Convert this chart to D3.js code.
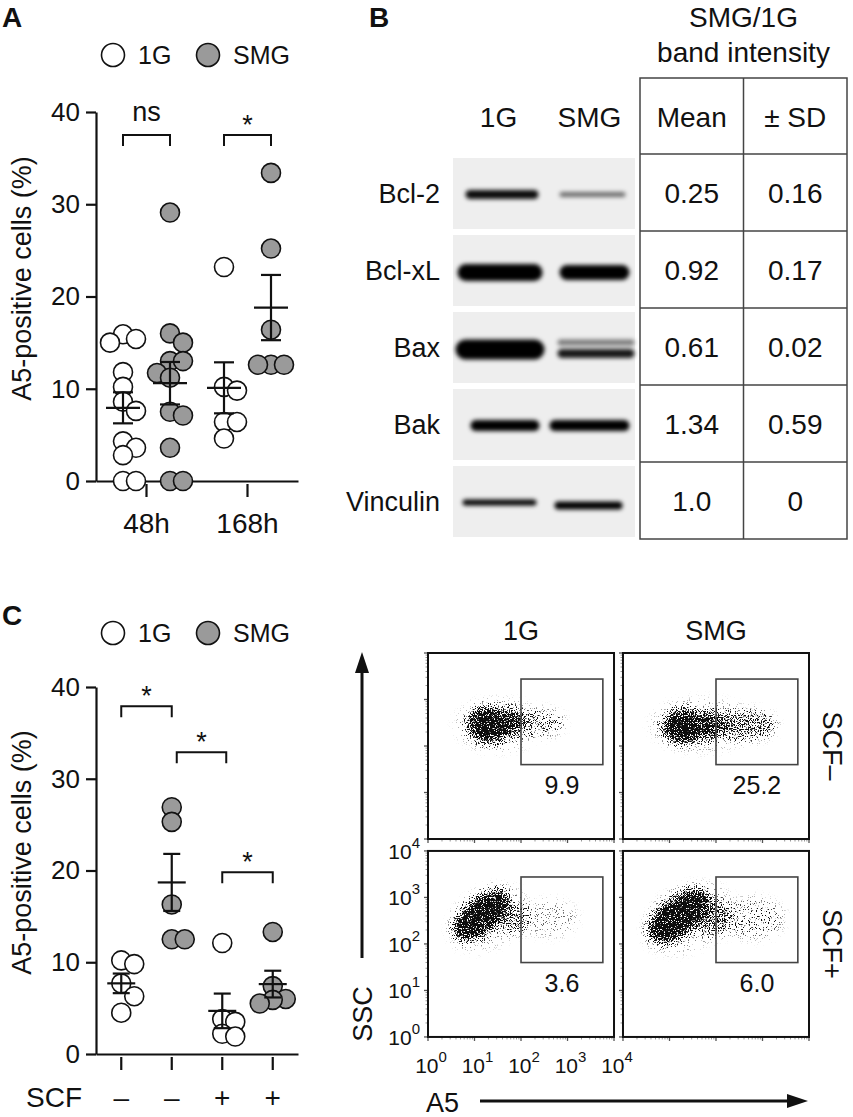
<!DOCTYPE html>
<html>
<head>
<meta charset="utf-8">
<script src="https://cdn.jsdelivr.net/npm/d3@7/dist/d3.min.js"></script>
<style>
  html, body { margin: 0; padding: 0; background: #fff; }
  svg { display: block; }
</style>
</head>
<body>
<div id="fig"></div>
<script>
// ---------- data ----------
const yTicks = [0, 10, 20, 30, 40];
const legendGroups = ['1G', 'SMG'];

// panel A: A5-positive cells (%), one value per experiment
const timePoints = ['48h', '168h'];
const a1G48 = [15.9, 15.4, 15.0, 11.8, 10.2, 8.6, 7.6, 4.3, 3.6, 2.8, 0, 0];
const aSMG48 = [29.1, 16.0, 15.0, 13.0, 13.0, 11.7, 11.2, 7.5, 7.1, 3.6, 0, 0];
const a1G168 = [23.2, 10.2, 9.8, 6.4, 6.4, 4.6];
const aSMG168 = [33.4, 25.2, 16.4, 12.6, 12.6, 12.6];
const sigA = [
  { from: 0, to: 1, label: 'ns', level: 37.5 },
  { from: 2, to: 3, label: '*', level: 37.5 }
];

// panel C: with / without SCF
const scfKeys = ['1G-', 'SMG-', '1G+', 'SMG+'];
const scfSigns = ['–', '–', '+', '+'];
const c1GMinus = [10.2, 9.8, 7.7, 6.3, 4.5];
const cSMGMinus = [26.9, 25.3, 16.3, 12.5, 12.5];
const c1GPlus = [12.1, 3.8, 3.5, 2.2, 1.9];
const cSMGPlus = [13.3, 7.4, 6.0, 5.9, 5.5];
const sigC = [
  { from: 0, to: 1, label: '*', level: 37.9 },
  { from: 1, to: 2, label: '*', level: 32.9 },
  { from: 2, to: 3, label: '*', level: 19.8 }
];

// panel B: western blot + SMG/1G band intensity
const proteins = ['Bcl-2', 'Bcl-xL', 'Bax', 'Bak', 'Vinculin'];
const lanes = ['1G', 'SMG'];
const ratioMean = ['0.25', '0.92', '0.61', '1.34', '1.0'];
const ratioSD = ['0.16', '0.17', '0.02', '0.59', '0'];
const band1G = [0.95, 1, 1, 1, 1];
const bandSMG = [0.55, 1, 0.9, 1, 1];

// flow cytometry (log10 units): gate and event clouds
const flowCols = ['1G', 'SMG'];
const flowRows = ['SCF–', 'SCF+'];
const decades = [0, 1, 2, 3, 4];
const gatePercent = [['9.9', '25.2'], ['3.6', '6.0']];
const gateA5 = [2.0, 3.76];
const gateSSC = [1.6, 3.44];
// each blob: [log A5, log SSC, spread A5, spread SSC, tilt deg, density]
const clouds = [
  [
    [[1.3, 2.45, 0.45, 0.38, -10, 1], [1.75, 2.5, 0.33, 0.3, 0, 0.8], [2.4, 2.5, 0.5, 0.26, 0, 0.33], [1.5, 2.45, 0.9, 0.55, 0, 0.1]],
    [[1.3, 2.42, 0.45, 0.36, 0, 1], [1.85, 2.45, 0.35, 0.32, 0, 0.8], [2.65, 2.45, 0.62, 0.3, 0, 0.48], [1.7, 2.45, 1.1, 0.55, 0, 0.1]]
  ],
  [
    [[1.15, 2.62, 0.72, 0.36, 40, 1], [1.85, 2.55, 0.33, 0.3, 0, 0.42], [2.6, 2.55, 0.6, 0.38, 0, 0.13], [1.3, 2.55, 0.9, 0.6, 30, 0.1]],
    [[1.2, 2.6, 0.78, 0.4, 38, 1], [1.95, 2.55, 0.38, 0.38, 0, 0.5], [2.8, 2.55, 0.65, 0.42, 0, 0.2], [1.4, 2.55, 1.0, 0.65, 30, 0.1]]
  ]
];

// ---------- setup ----------
const W = 853, H = 1117;
const FONT = '"Liberation Sans", Arial, Helvetica, sans-serif';
const INK = '#111';
const GREY = '#9a9a9a';

const svg = d3.select('#fig').append('svg')
  .attr('width', W).attr('height', H)
  .attr('font-family', FONT);

const defs = svg.append('defs');

// soft blur for blot bands
defs.append('filter').attr('id', 'bandBlur')
  .attr('x', '-20%').attr('y', '-80%').attr('width', '140%').attr('height', '260%')
  .append('feGaussianBlur').attr('stdDeviation', 2.1);

// stipple: density from blurred blobs, grain from noise
const stip = defs.append('filter').attr('id', 'stipple')
  .attr('x', '-20%').attr('y', '-20%').attr('width', '140%').attr('height', '140%');
stip.append('feGaussianBlur').attr('in', 'SourceGraphic').attr('stdDeviation', 5).attr('result', 'dens');
stip.append('feTurbulence').attr('type', 'fractalNoise').attr('baseFrequency', 0.85)
  .attr('numOctaves', 2).attr('seed', 7).attr('result', 'noise');
stip.append('feColorMatrix').attr('in', 'noise').attr('type', 'matrix')
  .attr('values', '0 0 0 0 0  0 0 0 0 0  0 0 0 0 0  0 0 0 2.6 -0.8').attr('result', 'grain');
stip.append('feComposite').attr('in', 'dens').attr('in2', 'grain').attr('operator', 'arithmetic')
  .attr('k1', 0).attr('k2', 5).attr('k3', -5).attr('k4', 0).attr('result', 'mask');
stip.append('feFlood').attr('flood-color', '#111').attr('result', 'ink');
stip.append('feComposite').attr('in', 'ink').attr('in2', 'mask').attr('operator', 'in');

function panelLetter(t, x, y) {
  svg.append('text').attr('x', x).attr('y', y)
    .attr('font-size', 28).attr('font-weight', 'bold').attr('fill', INK).text(t);
}

// spread points sideways so they do not sit on top of each other
function dodge(values, y, step, minDist) {
  const placed = [];
  return values.map(v => {
    const py = y(v);
    for (const k of [0, 1, -1, 2, -2, 3, -3]) {
      const px = k * step;
      if (placed.every(p => Math.hypot(p.x - px, p.y - py) >= minDist)) {
        placed.push({ x: px, y: py });
        return px;
      }
    }
    placed.push({ x: 0, y: py });
    return 0;
  });
}

function dotPlot(o) {
  const y = d3.scaleLinear().domain([0, 40]).range([o.bottom, o.top]);
  const xb = d3.scaleBand().domain(o.keys).range([o.left, o.right]);
  const g = svg.append('g');

  // y axis
  const ya = g.append('g')
    .attr('transform', `translate(${o.left},0)`)
    .call(d3.axisLeft(y).tickValues(yTicks).tickSize(10).tickSizeOuter(0).tickPadding(6));
  ya.attr('font-size', 26).attr('font-family', FONT);
  ya.selectAll('path, line').attr('stroke', INK).attr('stroke-width', 2.2);
  ya.selectAll('text').attr('fill', INK);

  // x axis
  const xa = g.append('g')
    .attr('transform', `translate(0,${o.bottom})`)
    .call(d3.axisBottom(xb).tickSize(16).tickSizeOuter(0).tickFormat((d, i) => o.tickText[i]));
  xa.attr('font-size', 28).attr('font-family', FONT);
  xa.selectAll('path, line').attr('stroke', INK).attr('stroke-width', 2.2);
  xa.selectAll('.tick line').attr('y1', 3);
  xa.selectAll('.tick text').attr('y', o.tickTextY).attr('dy', 0).attr('fill', INK);

  const centerOf = gi => o.center(xb, gi);

  // points
  o.groups.forEach((grp, gi) => {
    const cx = centerOf(gi);
    const offs = dodge(grp.values, y, 13, 12.9);
    g.append('g').selectAll('circle').data(grp.values).join('circle')
      .attr('cx', (d, i) => cx + offs[i])
      .attr('cy', d => y(d))
      .attr('r', 9.5)
      .attr('fill', grp.fill)
      .attr('stroke', INK)
      .attr('stroke-width', 1.6);
  });

  // mean +/- SEM
  o.groups.forEach((grp, gi) => {
    const cx = centerOf(gi);
    const m = d3.mean(grp.values);
    const sem = d3.deviation(grp.values) / Math.sqrt(grp.values.length);
    const e = g.append('g').attr('stroke', INK).attr('stroke-width', 2.2);
    e.append('line').attr('x1', cx - o.meanHalf).attr('x2', cx + o.meanHalf)
      .attr('y1', y(m)).attr('y2', y(m));
    e.append('line').attr('x1', cx).attr('x2', cx)
      .attr('y1', y(m - sem)).attr('y2', y(m + sem));
    [m - sem, m + sem].forEach(v => {
      e.append('line').attr('x1', cx - o.capHalf).attr('x2', cx + o.capHalf)
        .attr('y1', y(v)).attr('y2', y(v));
    });
  });

  // significance brackets
  o.sig.forEach((s, i) => {
    let xa1 = centerOf(s.from), xb1 = centerOf(s.to);
    const prev = o.sig[i - 1];
    if (prev && prev.to === s.from && Math.abs(prev.level - s.level) < 8) { xa1 += 5; xb1 += 4; }
    const yt = y(s.level);
    g.append('path')
      .attr('d', `M${xa1},${yt + 11}V${yt}H${xb1}V${yt + 11}`)
      .attr('fill', 'none').attr('stroke', INK).attr('stroke-width', 2);
    g.append('text')
      .attr('x', (xa1 + xb1) / 2)
      .attr('y', s.label === '*' ? yt - 1 : yt - 14)
      .attr('text-anchor', 'middle')
      .attr('font-size', 27).attr('fill', INK)
      .text(s.label);
  });

  // legend
  const lg = g.append('g');
  legendGroups.forEach((name, i) => {
    const lx = o.left + 17 + i * 95;
    lg.append('circle').attr('cx', lx).attr('cy', o.legendY).attr('r', 11.5)
      .attr('fill', i === 0 ? '#fff' : GREY).attr('stroke', INK).attr('stroke-width', 1.6);
    lg.append('text').attr('x', lx + 25).attr('y', o.legendY + 9)
      .attr('font-size', 25).attr('fill', INK).text(name);
  });

  // y title
  g.append('text')
    .attr('transform', `translate(31,${(o.top + o.bottom) / 2 - 18}) rotate(-90)`)
    .attr('text-anchor', 'middle')
    .attr('font-size', 27).attr('fill', INK)
    .text('A5-positive cells (%)');

  return g;
}

// ---------- panel A ----------
panelLetter('A', 2, 27);
dotPlot({
  top: 112, bottom: 481, left: 96, right: 298,
  keys: timePoints, tickText: timePoints, tickTextY: 52,
  center: (xb, gi) => xb(timePoints[gi >> 1]) + xb.bandwidth() / 2 + (gi % 2 ? 23.5 : -23.5),
  groups: [
    { values: a1G48, fill: '#fff' },
    { values: aSMG48, fill: GREY },
    { values: a1G168, fill: '#fff' },
    { values: aSMG168, fill: GREY }
  ],
  sig: sigA, meanHalf: 17, capHalf: 10, legendY: 55
});

// ---------- panel C (dot plot) ----------
panelLetter('C', 2, 625);
dotPlot({
  top: 687, bottom: 1054, left: 96, right: 298,
  keys: scfKeys, tickText: scfSigns, tickTextY: 53,
  center: (xb, gi) => xb(scfKeys[gi]) + xb.bandwidth() / 2,
  groups: [
    { values: c1GMinus, fill: '#fff' },
    { values: cSMGMinus, fill: GREY },
    { values: c1GPlus, fill: '#fff' },
    { values: cSMGPlus, fill: GREY }
  ],
  sig: sigC, meanHalf: 14, capHalf: 8.5, legendY: 633
});
svg.append('text').attr('x', 82).attr('y', 1107).attr('text-anchor', 'end')
  .attr('font-size', 28).attr('fill', INK).text('SCF');

// ---------- panel B ----------
panelLetter('B', 369, 27);
const rowBand = d3.scaleBand().domain(proteins).range([154, 539]);
const laneBand = d3.scaleBand().domain(lanes).range([453, 635]);
const tableCol = d3.scaleBand().domain(['Mean', '± SD']).range([640, 847]);
const tableTop = 78;

// band shapes (offsets from lane centre / row centre)
const bandLook = {
  'Bcl-2':    [[{ x0: -33, x1: 40, dy: 2, h: 9 }], [{ x0: -30, x1: 36, dy: 2, h: 5 }]],
  'Bcl-xL':   [[{ x0: -41, x1: 44, dy: 3, h: 17 }], [{ x0: -30, x1: 40, dy: 3, h: 15 }]],
  'Bax':      [[{ x0: -43, x1: 46, dy: 3, h: 20 }],
               [{ x0: -32, x1: 45, dy: -4, h: 6, w: 0.55 }, { x0: -32, x1: 45, dy: 7, h: 9 }]],
  'Bak':      [[{ x0: -28, x1: 41, dy: 2, h: 11 }], [{ x0: -40, x1: 40, dy: 2, h: 11 }]],
  'Vinculin': [[{ x0: -36, x1: 38, dy: 2, h: 6 }], [{ x0: -35, x1: 33, dy: 5, h: 8 }]]
};

const blot = svg.append('g');
proteins.forEach((p, i) => {
  const y0 = rowBand(p), bh = rowBand.bandwidth(), yc = y0 + bh / 2;
  blot.append('rect')
    .attr('x', laneBand.range()[0]).attr('y', y0 + 4)
    .attr('width', laneBand.range()[1] - laneBand.range()[0]).attr('height', bh - 6)
    .attr('fill', '#eeeeee');
  const bands = blot.append('g').attr('filter', 'url(#bandBlur)');
  lanes.forEach((lane, li) => {
    const lc = laneBand(lane) + laneBand.bandwidth() / 2;
    const dens = li === 0 ? band1G[i] : bandSMG[i];
    bandLook[p][li].forEach(b => {
      bands.append('rect')
        .attr('x', lc + b.x0).attr('y', yc + b.dy - b.h / 2)
        .attr('width', b.x1 - b.x0).attr('height', b.h)
        .attr('rx', b.h / 2)
        .attr('fill', '#000').attr('fill-opacity', dens * (b.w || 1));
    });
  });
  blot.append('text').attr('x', 440).attr('y', yc + 10).attr('text-anchor', 'end')
    .attr('font-size', 27).attr('fill', INK).text(p);
  // table values
  [ratioMean[i], ratioSD[i]].forEach((v, ci) => {
    const key = tableCol.domain()[ci];
    blot.append('text').attr('x', tableCol(key) + tableCol.bandwidth() / 2).attr('y', yc + 10)
      .attr('text-anchor', 'middle').attr('font-size', 28).attr('fill', INK).text(v);
  });
});

// lane headers
lanes.forEach(l => {
  blot.append('text').attr('x', laneBand(l) + laneBand.bandwidth() / 2).attr('y', 127)
    .attr('text-anchor', 'middle').attr('font-size', 28).attr('fill', INK).text(l);
});

// table grid
const grid = blot.append('g').attr('stroke', '#444').attr('stroke-width', 1.5).attr('fill', 'none');
const [tx0, tx1] = tableCol.range();
grid.append('rect').attr('x', tx0).attr('y', tableTop)
  .attr('width', tx1 - tx0).attr('height', rowBand.range()[1] - tableTop);
grid.append('line').attr('x1', tableCol('± SD')).attr('x2', tableCol('± SD'))
  .attr('y1', tableTop).attr('y2', rowBand.range()[1]);
proteins.forEach(p => {
  grid.append('line').attr('x1', tx0).attr('x2', tx1).attr('y1', rowBand(p)).attr('y2', rowBand(p));
});
tableCol.domain().forEach(c => {
  blot.append('text').attr('x', tableCol(c) + tableCol.bandwidth() / 2).attr('y', 127)
    .attr('text-anchor', 'middle').attr('font-size', 28).attr('fill', INK).text(c);
});
blot.append('text').attr('x', (tx0 + tx1) / 2).attr('y', 27).attr('text-anchor', 'middle')
  .attr('font-size', 28).attr('fill', INK).text('SMG/1G');
blot.append('text').attr('x', (tx0 + tx1) / 2).attr('y', 62).attr('text-anchor', 'middle')
  .attr('font-size', 28).attr('fill', INK).text('band intensity');

// ---------- panel C (flow cytometry) ----------
const fx = d3.scaleBand().domain(flowCols).range([428, 809]).paddingInner(0.046);
const fy = d3.scaleBand().domain(flowRows).range([653, 1037]).paddingInner(0.06);
const fs = fx.bandwidth();
const minor = [];
decades.slice(0, -1).forEach(e => d3.range(2, 10).forEach(k => minor.push(e + Math.log10(k))));

const flow = svg.append('g');

function powLabel(t, e) {
  t.append('tspan').text('10');
  t.append('tspan').attr('dy', -11).attr('font-size', 15).text(e);
}

flowRows.forEach((row, ri) => {
  flowCols.forEach((col, ci) => {
    const x0 = fx(col), y0 = fy(row);
    const a5 = d3.scaleLinear().domain([0, 4]).range([x0, x0 + fs]);
    const ssc = d3.scaleLinear().domain([0, 4]).range([y0 + fs, y0]);
    const id = `clip${ri}${ci}`;
    defs.append('clipPath').attr('id', id)
      .append('rect').attr('x', x0).attr('y', y0).attr('width', fs).attr('height', fs);

    // events
    const cl = flow.append('g').attr('clip-path', `url(#${id})`)
      .append('g').attr('filter', 'url(#stipple)');
    clouds[ri][ci].forEach(b => {
      const cx = a5(b[0]), cy = ssc(b[1]);
      cl.append('ellipse')
        .attr('cx', cx).attr('cy', cy)
        .attr('rx', a5(b[2]) - a5(0)).attr('ry', a5(b[3]) - a5(0))
        .attr('transform', `rotate(${-b[4]},${cx},${cy})`)
        .attr('fill', '#000').attr('fill-opacity', b[5]);
    });

    // ticks
    const tk = flow.append('g');
    minor.forEach(v => {
      tk.append('line').attr('x1', x0 - 2.5).attr('x2', x0).attr('y1', ssc(v)).attr('y2', ssc(v))
        .attr('stroke', '#999').attr('stroke-width', 1);
      tk.append('line').attr('y1', y0 + fs).attr('y2', y0 + fs + 2.5).attr('x1', a5(v)).attr('x2', a5(v))
        .attr('stroke', '#999').attr('stroke-width', 1);
    });
    decades.forEach(v => {
      tk.append('line').attr('x1', x0 - 4).attr('x2', x0).attr('y1', ssc(v)).attr('y2', ssc(v))
        .attr('stroke', '#555').attr('stroke-width', 1.3);
      tk.append('line').attr('y1', y0 + fs).attr('y2', y0 + fs + 4).attr('x1', a5(v)).attr('x2', a5(v))
        .attr('stroke', '#555').attr('stroke-width', 1.3);
    });

    // frame and gate
    flow.append('rect').attr('x', x0).attr('y', y0).attr('width', fs).attr('height', fs)
      .attr('fill', 'none').attr('stroke', INK).attr('stroke-width', 2);
    flow.append('rect')
      .attr('x', a5(gateA5[0])).attr('y', ssc(gateSSC[1]))
      .attr('width', a5(gateA5[1]) - a5(gateA5[0])).attr('height', ssc(gateSSC[0]) - ssc(gateSSC[1]))
      .attr('fill', 'none').attr('stroke', '#444').attr('stroke-width', 1.6);
    flow.append('text')
      .attr('x', a5((gateA5[0] + gateA5[1]) / 2)).attr('y', ssc(gateSSC[0]) + 29)
      .attr('text-anchor', 'middle').attr('font-size', 25).attr('fill', INK)
      .text(gatePercent[ri][ci]);

    // axis labels only on the lower-left plot
    if (ri === 1 && ci === 0) {
      decades.forEach(e => {
        const t = flow.append('text').attr('x', x0 - 8).attr('y', ssc(e) + 8)
          .attr('text-anchor', 'end').attr('font-size', 21).attr('fill', INK);
        powLabel(t, e);
        const u = flow.append('text').attr('x', a5(e) + 3).attr('y', y0 + fs + 36)
          .attr('text-anchor', 'middle').attr('font-size', 21).attr('fill', INK);
        powLabel(u, e);
      });
    }
  });
});

// column and row headers
flowCols.forEach(c => {
  flow.append('text').attr('x', fx(c) + fs / 2).attr('y', 640).attr('text-anchor', 'middle')
    .attr('font-size', 27).attr('fill', INK).text(c);
});
flowRows.forEach(r => {
  flow.append('text')
    .attr('transform', `translate(823,${fy(r) + fs / 2}) rotate(90)`)
    .attr('text-anchor', 'middle').attr('font-size', 27).attr('fill', INK).text(r);
});

// SSC and A5 arrows
flow.append('line').attr('x1', 362).attr('x2', 362).attr('y1', 958).attr('y2', 670)
  .attr('stroke', INK).attr('stroke-width', 3);
flow.append('path').attr('d', 'M355,673L362,652L369,673Z').attr('fill', INK);
flow.append('text').attr('transform', 'translate(372,1014) rotate(-90)')
  .attr('text-anchor', 'middle').attr('font-size', 27).attr('fill', INK).text('SSC');
flow.append('line').attr('x1', 480).attr('x2', 792).attr('y1', 1101).attr('y2', 1101)
  .attr('stroke', INK).attr('stroke-width', 3);
flow.append('path').attr('d', 'M787,1094L808,1101L787,1108Z').attr('fill', INK);
flow.append('text').attr('x', 426).attr('y', 1112)
  .attr('font-size', 27).attr('fill', INK).text('A5');
</script>
</body>
</html>
